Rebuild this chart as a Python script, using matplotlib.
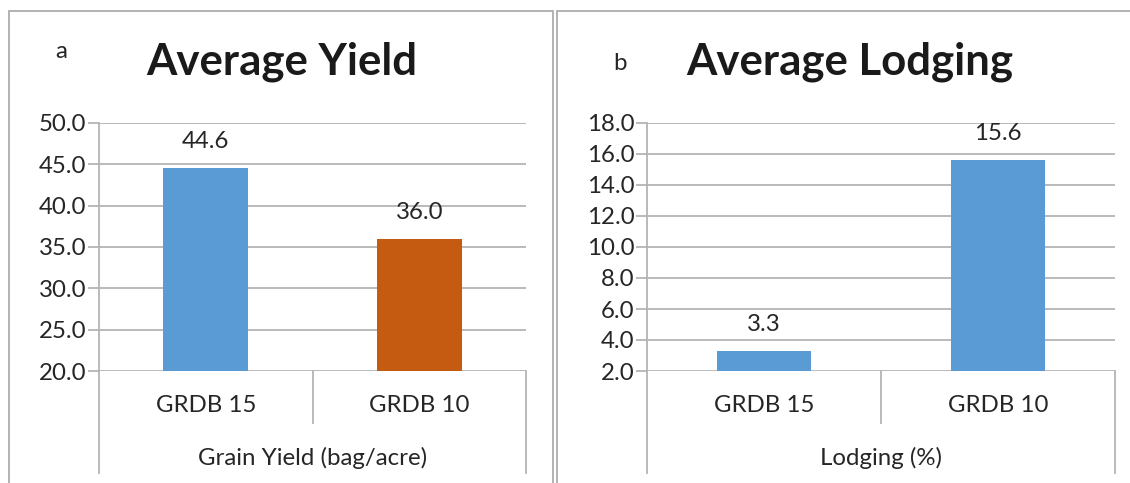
import matplotlib
matplotlib.use("Agg")
import matplotlib.pyplot as plt
from matplotlib.lines import Line2D
from matplotlib.patches import Rectangle

plt.rcParams['font.family'] = ['Lato', 'DejaVu Sans']

categories = ["GRDB 15", "GRDB 10"]
yield_values = [44.6, 36.0]
lodging_values = [3.3, 15.6]
yield_ticks = [20.0, 25.0, 30.0, 35.0, 40.0, 45.0, 50.0]
lodging_ticks = [2.0, 4.0, 6.0, 8.0, 10.0, 12.0, 14.0, 16.0, 18.0]

W, H = 1130, 483
BLUE = "#5B9BD5"
ORANGE = "#C55A11"
GRID = "#B4B4B4"
TEXT = "#262626"
FS = 17.3

fig = plt.figure(figsize=(W / 100, H / 100), dpi=100)


def fx(px):
    return px / W


def fy(py):
    return 1 - py / H


def panel(x0, x1, letter, letter_xy, title, title_x, values, colors, ticks,
          xlabel):
    ytop, ybot = 123, 371
    ax = fig.add_axes([fx(x0), fy(ybot), fx(x1 - x0), (ybot - ytop) / H])
    xs = list(range(len(values)))
    ax.bar(xs, values, width=0.4, color=colors, zorder=3, bottom=0)
    ax.set_xlim(-0.5, len(values) - 0.5)
    ax.set_ylim(ticks[0], ticks[-1])
    ax.set_yticks(ticks)
    ax.set_yticklabels([f"{t:.1f}" for t in ticks], fontsize=FS, color=TEXT)
    ax.tick_params(axis='y', length=8, color=GRID, width=1.3, pad=1)
    ax.set_xticks([])
    ax.yaxis.grid(True, color=GRID, linewidth=1.3, zorder=0)
    for s in ("top", "right", "bottom"):
        ax.spines[s].set_visible(False)
    ax.spines["left"].set_color(GRID)
    ax.spines["left"].set_linewidth(1.3)
    for x, v in zip(xs, values):
        ax.annotate(f"{v:.1f}", (x, v), xytext=(0, 19), textcoords="offset points",
                    ha="center", va="center", fontsize=FS, color=TEXT)

    # category box below the plot area
    lw = 1.3
    fig.add_artist(Line2D([fx(x0), fx(x0)], [fy(ybot), fy(473)], color=GRID, lw=lw))
    fig.add_artist(Line2D([fx(x1), fx(x1)], [fy(ybot), fy(473)], color=GRID, lw=lw))
    mid = (x0 + x1) / 2
    fig.add_artist(Line2D([fx(mid), fx(mid)], [fy(ybot), fy(423)], color=GRID, lw=lw))
    for i, c in enumerate(categories):
        cx = x0 + (x1 - x0) * (i + 0.5) / len(categories)
        fig.text(fx(cx), fy(406), c, ha="center", va="center", fontsize=FS, color=TEXT)
    fig.text(fx(mid), fy(458), xlabel, ha="center", va="center", fontsize=FS, color=TEXT)

    fig.text(fx(title_x), fy(62), title, ha="center", va="center", fontsize=31.5,
             fontweight="bold", color="#1a1a1a")
    fig.text(fx(letter_xy[0]), fy(letter_xy[1]), letter, ha="center", va="center",
             fontsize=FS, color=TEXT)
    return ax


# panel frames
fig.add_artist(Rectangle((fx(9), fy(490)), fx(553 - 9), fy(11) - fy(490),
                         fill=False, edgecolor="#ADADAD", lw=1.3))
fig.add_artist(Rectangle((fx(557), fy(490)), fx(1140 - 557), fy(11) - fy(490),
                         fill=False, edgecolor="#ADADAD", lw=1.3))

panel(99, 526, "a", (61, 52), "Average Yield", 282, yield_values,
      [BLUE, ORANGE], yield_ticks, "Grain Yield (bag/acre)")
panel(647, 1115, "b", (620, 64), "Average Lodging", 850, lodging_values,
      [BLUE, BLUE], lodging_ticks, "Lodging (%)")

fig.savefig("out.png", dpi=100)
